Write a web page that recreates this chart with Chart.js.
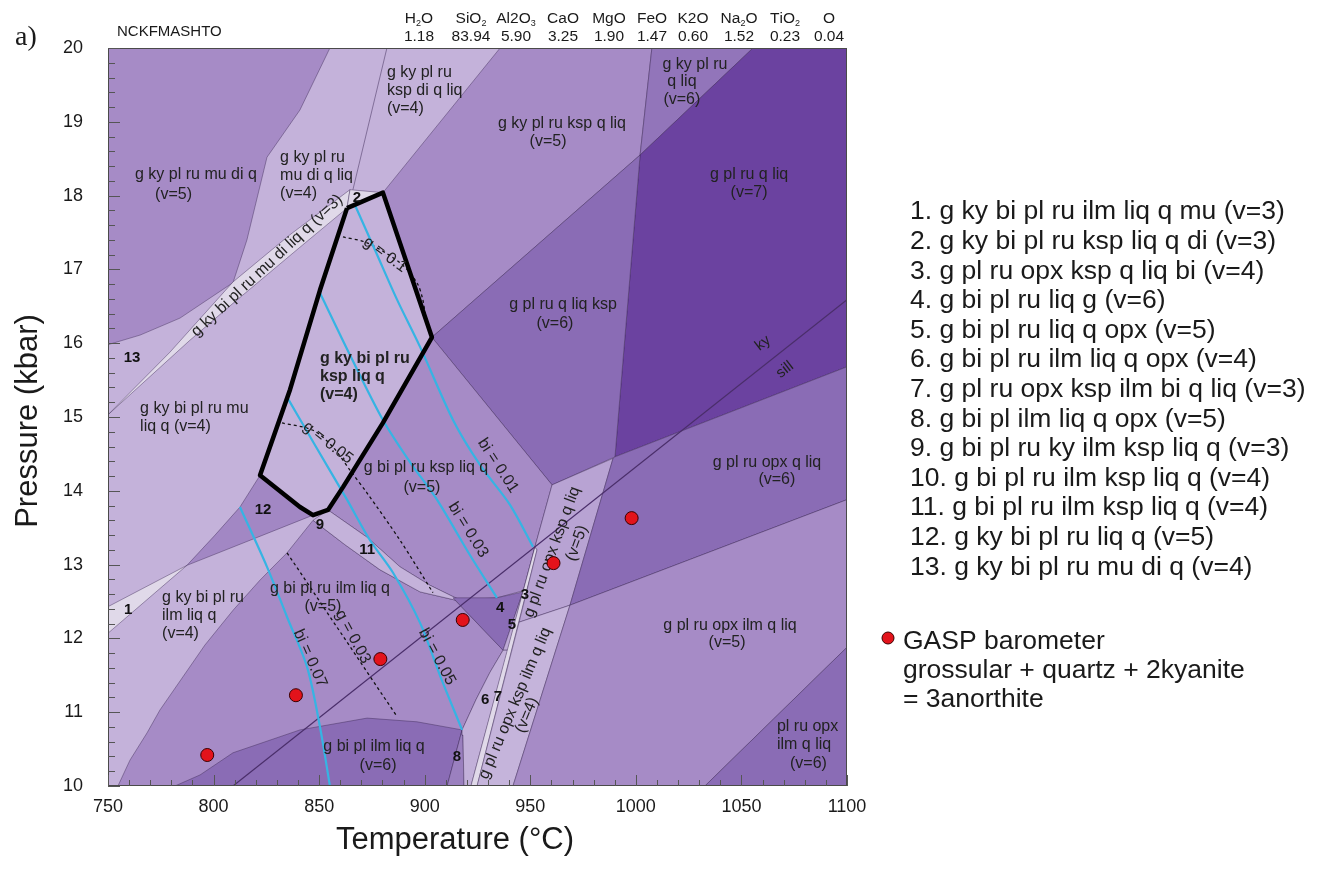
<!DOCTYPE html>
<html>
<head>
<meta charset="utf-8">
<script src="https://cdn.jsdelivr.net/npm/chart.js@4.4.1/dist/chart.umd.min.js"></script>
<style>
  html, body { margin: 0; padding: 0; background: #ffffff; }
  #wrap { width: 1325px; height: 869px; }
</style>
</head>
<body>
<div id="wrap"><canvas id="pseudosection" width="1325" height="869"></canvas></div>
<script>
// ---- axes ----
const temperatureTicks = [750, 800, 850, 900, 950, 1000, 1050, 1100];
const pressureTicks = [10, 11, 12, 13, 14, 15, 16, 17, 18, 19, 20];

// ---- bulk composition (mol%) ----
const oxideNames = ['H_2O', 'SiO_2', 'Al2O_3', 'CaO', 'MgO', 'FeO', 'K2O', 'Na_2O', 'TiO_2', 'O'];
const oxideValues = ['1.18', '83.94', '5.90', '3.25', '1.90', '1.47', '0.60', '1.52', '0.23', '0.04'];

// ---- assemblage fields, [T (°C), P (kbar)] vertices ----
const fieldKyPlRuMuDiQ = [[750, 20], [855.1, 20], [840.9, 19.16], [825.3, 18.52], [815.8, 17.40], [809.2, 16.82], [784.1, 16.34], [765.2, 16.11], [750, 15.98]];
const fieldKyPlRuKspQLiq = [[935.7, 20], [1007.6, 20], [1002.0, 18.55], [903.4, 16.08], [880.2, 18.04]];
const fieldKyPlRuQLiq = [[1007.6, 20], [1055.5, 20], [1002.0, 18.55]];
const fieldPlRuQLiq = [[1055.5, 20], [1100, 20], [1100, 15.68], [990.1, 14.46], [1002.0, 18.55]];
const fieldPlRuQLiqKsp = [[903.4, 16.08], [1002.0, 18.55], [990.1, 14.46], [960.3, 14.08]];
const fieldBiPlRuKspLiqQ = [[903.4, 16.08], [960.3, 14.08], [952.2, 13.24], [948.4, 12.66], [934.2, 12.55], [916.7, 12.52], [902.5, 12.72], [888.3, 12.97], [872.7, 13.37], [854.2, 13.74], [861.3, 14.05], [880.2, 14.92]];
const fieldBiPlRuIlmLiqQ = [[847.1, 13.60], [862.2, 13.27], [878.8, 12.93], [897.8, 12.63], [914.3, 12.52], [937.1, 11.84], [930.9, 11.54], [924.3, 11.17], [917.7, 10.76], [910.6, 10.0], [754.7, 10.0], [760.4, 10.35], [768.5, 10.72], [774.6, 11.03], [785.5, 11.48], [795.9, 11.91], [809.2, 12.38], [822.0, 12.79], [834.8, 13.16]];
const field11 = [[854.2, 13.74], [872.7, 13.37], [888.3, 12.97], [902.5, 12.72], [916.7, 12.52], [914.3, 12.52], [897.8, 12.63], [878.8, 12.93], [862.2, 13.27], [847.1, 13.60]];
const fieldBiPlIlmLiqQ = [[781.7, 10.0], [793.6, 10.15], [809.2, 10.45], [840.9, 10.76], [872.7, 10.92], [896.3, 10.87], [917.7, 10.76], [910.6, 10.0]];
const field8 = [[917.7, 10.76], [910.6, 10.0], [918.6, 10.0], [918.1, 10.69]];
const field4 = [[913.4, 12.55], [934.2, 12.55], [946.5, 12.63], [937.1, 11.84]];
const field5 = [[946.5, 12.63], [952.2, 13.24], [939.4, 11.84], [937.1, 11.84]];
const field6 = [[937.1, 11.84], [939.4, 11.84], [921.9, 10.0], [918.6, 10.0], [918.1, 10.69], [917.7, 10.76], [924.3, 11.17], [930.9, 11.54]];
const field7 = [[952.2, 13.24], [953.2, 13.20], [924.8, 10.0], [921.9, 10.0]];
const fieldOpxKspQLiq = [[960.3, 14.08], [989.2, 14.44], [968.8, 12.45], [944.7, 12.22], [953.2, 13.20], [952.2, 13.24]];
const fieldOpxKspIlmQLiq = [[944.7, 12.22], [968.8, 12.45], [941.8, 10.0], [924.8, 10.0]];
const fieldPlRuOpxQLiq = [[990.1, 14.46], [1100, 15.68], [1100, 13.88], [968.8, 12.45], [989.2, 14.44]];
const fieldPlRuOpxIlmQLiq = [[968.8, 12.45], [1100, 13.88], [1100, 11.88], [1032.7, 10.0], [941.8, 10.0]];
const fieldNoGarnet = [[1100, 11.88], [1100, 10.0], [1032.7, 10.0]];
const field12 = [[822.0, 14.21], [834.8, 13.92], [840.9, 13.78], [847.1, 13.67], [817.3, 13.33], [787.4, 12.99], [800.7, 13.40], [812.5, 13.78]];
const field1 = [[750, 12.43], [787.4, 12.99], [750, 12.07]];
const fieldMuDiLiqV3 = [[750, 15.03], [779.4, 15.88], [809.2, 16.83], [836.2, 17.47], [864.6, 18.08], [863.2, 17.83], [840.9, 17.30], [809.2, 16.54], [788.8, 16.04]];
const field2 = [[864.6, 18.08], [880.2, 18.04], [863.2, 17.83]];

// ---- single boundaries between same-shaded fields ----
const lineMuDiLiqKsp = [[882.1, 20], [866.0, 18.08]];
const kyanSillimanite = [[809.2, 10.0], [1100, 16.59]];

// ---- isopleths ----
const isoBi001 = [[867.0, 17.87], [876.5, 17.26], [886.9, 16.59], [897.8, 15.95], [913.4, 14.96], [926.2, 14.35], [940.4, 13.81], [951.3, 13.24]];
const isoBi003 = [[850.4, 16.68], [864.6, 15.84], [880.2, 14.96], [893.0, 14.39], [905.8, 13.88], [921.4, 13.13], [934.2, 12.55]];
const isoBi005 = [[834.8, 15.27], [848.0, 14.62], [863.2, 13.88], [874.1, 13.33], [885.0, 12.89], [897.8, 12.21], [907.2, 11.50], [917.7, 10.76]];
const isoBi007 = [[812.5, 13.78], [825.3, 12.97], [834.8, 12.29], [844.3, 11.61], [850.4, 10.80], [855.1, 10.0]];
const isoG010 = [[861.3, 17.44], [872.7, 17.36], [888.3, 17.09], [896.3, 16.82], [899.1, 16.59], [900.6, 16.31]];
const isoG005 = [[832.4, 14.92], [847.1, 14.82], [856.6, 14.59], [864.6, 14.28], [872.7, 13.97], [888.3, 13.33], [903.9, 12.62]];
const isoG003 = [[834.8, 13.16], [886.9, 10.94]];

// ---- peak assemblage outline ----
const peakField = [[863.2, 17.83], [880.2, 18.04], [903.4, 16.08], [880.2, 14.92], [861.3, 14.05], [854.2, 13.74], [847.1, 13.67], [840.9, 13.78], [834.8, 13.92], [822.0, 14.21], [836.2, 15.37], [850.4, 16.72], [863.2, 17.83]];

// ---- GASP barometry results ----
const gaspT = [797, 839, 879, 918, 961, 998];
const gaspP = [10.42, 11.23, 11.72, 12.25, 13.02, 13.63];

// ---- legend text ----
const assemblageList = [
  '1. g ky bi pl ru ilm liq q mu (v=3)',
  '2. g ky bi pl ru ksp liq q di (v=3)',
  '3. g pl ru opx ksp q liq bi (v=4)',
  '4. g bi pl ru liq g (v=6)',
  '5. g bi pl ru liq q opx (v=5)',
  '6. g bi pl ru ilm liq q opx (v=4)',
  '7. g pl ru opx ksp ilm bi q liq (v=3)',
  '8. g bi pl ilm liq q opx (v=5)',
  '9. g bi pl ru ky ilm ksp liq q (v=3)',
  '10. g bi pl ru ilm ksp liq q (v=4)',
  '11. g bi pl ru ilm ksp liq q (v=4)',
  '12. g ky bi pl ru liq q (v=5)',
  '13. g ky bi pl ru mu di q (v=4)'
];
const gaspLegend = ['GASP barometer', 'grossular + quartz + 2kyanite', '= 3anorthite'];

// ---- styling ----
const FONT = '"Liberation Sans", Arial, sans-serif';
const shade = {
  base: '#c4b2da',
  pale: '#e0d9e9',
  light: '#c4b2da',
  lightMid: '#b8a3d3',
  mid: '#a68bc6',
  midDark: '#9275ba',
  dark: '#8a6cb5',
  darkest: '#6b42a0'
};
const edgeColor = 'rgba(55,35,80,0.6)';

function toXY(pts) { return pts.map(([x, y]) => ({ x, y })); }

function area(name, pts, color) {
  const data = toXY(pts);
  data.push({ x: pts[0][0], y: pts[0][1] });
  return { label: name, data, fill: 'shape', backgroundColor: color, borderColor: edgeColor,
           borderWidth: 0.7, pointRadius: 0, tension: 0 };
}
function curve(name, pts, color, width, dash, tension) {
  return { label: name, data: toXY(pts), fill: false, borderColor: color, borderWidth: width,
           borderDash: dash || [], pointRadius: 0, tension: tension || 0, borderCapStyle: 'butt' };
}

const datasets = [
  area('g ky pl ru mu di q', fieldKyPlRuMuDiQ, shade.mid),
  area('g ky pl ru ksp q liq', fieldKyPlRuKspQLiq, shade.mid),
  area('g ky pl ru q liq', fieldKyPlRuQLiq, shade.midDark),
  area('g pl ru q liq', fieldPlRuQLiq, shade.darkest),
  area('g pl ru q liq ksp', fieldPlRuQLiqKsp, shade.dark),
  area('g bi pl ru ksp liq q', fieldBiPlRuKspLiqQ, shade.mid),
  area('g bi pl ru ilm liq q', fieldBiPlRuIlmLiqQ, shade.mid),
  area('11', field11, shade.light),
  area('g bi pl ilm liq q', fieldBiPlIlmLiqQ, shade.dark),
  area('8', field8, '#9b80bf'),
  area('4', field4, shade.dark),
  area('5', field5, '#bda9d6'),
  area('6', field6, '#c2b0d9'),
  area('7', field7, shade.pale),
  area('g pl ru opx ksp q liq', fieldOpxKspQLiq, shade.lightMid),
  area('g pl ru opx ksp ilm q liq', fieldOpxKspIlmQLiq, '#c5b4db'),
  area('g pl ru opx q liq', fieldPlRuOpxQLiq, shade.dark),
  area('g pl ru opx ilm q liq', fieldPlRuOpxIlmQLiq, shade.mid),
  area('pl ru opx ilm q liq', fieldNoGarnet, shade.dark),
  area('12', field12, '#a287c4'),
  area('1', field1, shade.pale),
  area('g ky bi pl ru mu di liq q', fieldMuDiLiqV3, shade.pale),
  area('2', field2, shade.pale),
  curve('boundary', lineMuDiLiqKsp, edgeColor, 0.8),
  curve('ky = sill', kyanSillimanite, '#4a2e6a', 1.2),
  curve('g = 0.1', isoG010, '#111111', 1.3, [3, 3], 0.3),
  curve('g = 0.05', isoG005, '#111111', 1.3, [3, 3], 0.3),
  curve('g = 0.03', isoG003, '#111111', 1.3, [3, 3], 0),
  curve('bi = 0.01', isoBi001, '#36b4e3', 2.2, [], 0.3),
  curve('bi = 0.03', isoBi003, '#36b4e3', 2.2, [], 0.3),
  curve('bi = 0.05', isoBi005, '#36b4e3', 2.2, [], 0.3),
  curve('bi = 0.07', isoBi007, '#36b4e3', 2.2, [], 0.3),
  Object.assign(curve('peak', peakField, '#000000', 4.5), { borderJoinStyle: 'round' }),
  { label: 'GASP', id: 'gasp', data: gaspT.map((t, i) => ({ x: t, y: gaspP[i] })), showLine: false,
    pointRadius: 6.5, pointHoverRadius: 6.5, pointBackgroundColor: '#e3131b',
    pointBorderColor: '#3a0000', pointBorderWidth: 1 }
];
// first listed is painted first: lower order sits on top
datasets.forEach((d, i) => { d.order = datasets.length - i; });

// ---- text placed on the diagram (anchors in T, P) ----
const fieldLabels = [
  { t: 762.8, p: 18.28, align: 'left', lines: ['g ky pl ru mu di q'] },
  { t: 772.3, p: 18.02, align: 'left', lines: ['(v=5)'] },
  { t: 831.5, p: 18.51, align: 'left', lines: ['g ky pl ru', 'mu di q liq', '(v=4)'] },
  { t: 882.1, p: 19.67, align: 'left', lines: ['g ky pl ru', 'ksp di q liq', '(v=4)'] },
  { t: 965.0, p: 18.97, lines: ['g ky pl ru ksp q liq'] },
  { t: 958.4, p: 18.73, lines: ['(v=5)'] },
  { t: 1028.0, p: 19.78, lines: ['g ky pl ru'] },
  { t: 1021.8, p: 19.55, lines: ['q liq', '(v=6)'] },
  { t: 1053.6, p: 18.29, lines: ['g pl ru q liq', '(v=7)'] },
  { t: 965.5, p: 16.52, lines: ['g pl ru q liq ksp'] },
  { t: 961.7, p: 16.27, lines: ['(v=6)'] },
  { t: 850.4, p: 15.79, align: 'left', bold: true, lines: ['g ky bi pl ru', 'ksp liq q', '(v=4)'] },
  { t: 765.2, p: 15.12, align: 'left', lines: ['g ky bi pl ru mu', 'liq q (v=4)'] },
  { t: 900.6, p: 14.31, lines: ['g bi pl ru ksp liq q'] },
  { t: 898.7, p: 14.05, lines: ['(v=5)'] },
  { t: 1062.1, p: 14.38, lines: ['g pl ru opx q liq'] },
  { t: 1066.8, p: 14.15, lines: ['(v=6)'] },
  { t: 775.6, p: 12.55, align: 'left', lines: ['g ky bi pl ru', 'ilm liq q', '(v=4)'] },
  { t: 855.1, p: 12.68, lines: ['g bi pl ru ilm liq q'] },
  { t: 851.8, p: 12.43, lines: ['(v=5)'] },
  { t: 876.0, p: 10.53, lines: ['g bi pl ilm liq q'] },
  { t: 877.9, p: 10.28, lines: ['(v=6)'] },
  { t: 1044.6, p: 12.17, lines: ['g pl ru opx ilm q liq'] },
  { t: 1043.2, p: 11.94, lines: ['(v=5)'] },
  { t: 1066.8, p: 10.80, align: 'left', lines: ['pl ru opx', 'ilm q liq'] },
  { t: 1073.0, p: 10.31, align: 'left', lines: ['(v=6)'] }
];
const slantedLabels = [
  { t: 825.3, p: 17.05, angle: -43, text: 'g ky bi pl ru mu di liq q (v=3)' },
  { t: 960.3, p: 13.17, angle: -70, text: 'g pl ru opx ksp q liq' },
  { t: 972.1, p: 13.29, angle: -70, text: '(v=5)' },
  { t: 942.8, p: 11.12, angle: -67, text: 'g pl ru opx ksp ilm q liq' },
  { t: 948.4, p: 10.96, angle: -67, text: '(v=4)' },
  { t: 881.2, p: 17.20, angle: 36, text: 'g = 0.1' },
  { t: 854.2, p: 14.65, angle: 38, text: 'g = 0.05' },
  { t: 866.0, p: 12.02, angle: 62, text: 'g = 0.03' },
  { t: 934.7, p: 14.34, angle: 57, text: 'bi = 0.01' },
  { t: 920.5, p: 13.47, angle: 58, text: 'bi = 0.03' },
  { t: 905.8, p: 11.75, angle: 62, text: 'bi = 0.05' },
  { t: 845.7, p: 11.73, angle: 66, text: 'bi = 0.07' },
  { t: 1060.2, p: 16.00, angle: -38, text: 'ky', size: 15 },
  { t: 1070.6, p: 15.64, angle: -38, text: 'sill', size: 15 }
];
const fieldNumbers = [
  { t: 759.5, p: 12.38, text: '1' }, { t: 867.9, p: 17.97, text: '2' },
  { t: 947.5, p: 12.59, text: '3' }, { t: 935.7, p: 12.41, text: '4' },
  { t: 941.3, p: 12.18, text: '5' }, { t: 928.6, p: 11.17, text: '6' },
  { t: 934.7, p: 11.21, text: '7' }, { t: 915.3, p: 10.39, text: '8' },
  { t: 850.4, p: 13.54, text: '9' }, { t: 872.7, p: 13.20, text: '11' },
  { t: 823.4, p: 13.74, text: '12' }, { t: 761.4, p: 15.80, text: '13' }
];

function drawDiagramText(chart) {
  const ctx = chart.ctx, xs = chart.scales.x, ys = chart.scales.y;
  ctx.save();
  ctx.fillStyle = '#222222';
  ctx.textBaseline = 'middle';
  fieldLabels.forEach(l => {
    ctx.font = (l.bold ? 'bold ' : '') + '16px ' + FONT;
    ctx.textAlign = l.align || 'center';
    const x = xs.getPixelForValue(l.t), y = ys.getPixelForValue(l.p);
    l.lines.forEach((s, i) => ctx.fillText(s, x, y + i * 18));
  });
  slantedLabels.forEach(l => {
    ctx.save();
    ctx.translate(xs.getPixelForValue(l.t), ys.getPixelForValue(l.p));
    ctx.rotate(l.angle * Math.PI / 180);
    ctx.font = (l.size || 16) + 'px ' + FONT;
    ctx.textAlign = 'center';
    ctx.fillText(l.text, 0, 0);
    ctx.restore();
  });
  ctx.font = 'bold 15px ' + FONT;
  ctx.textAlign = 'center';
  ctx.fillStyle = '#111111';
  fieldNumbers.forEach(n => ctx.fillText(n.text, xs.getPixelForValue(n.t), ys.getPixelForValue(n.p)));
  ctx.restore();
}

function drawSubscripted(ctx, spec, cx, cy, size) {
  const parts = [];
  for (let i = 0; i < spec.length; i++) {
    if (spec[i] === '_') { parts.push({ s: spec[i + 1], sub: true }); i++; }
    else parts.push({ s: spec[i], sub: false });
  }
  const big = size + 'px ' + FONT, small = Math.round(size * 0.6) + 'px ' + FONT;
  let w = 0;
  parts.forEach(p => { ctx.font = p.sub ? small : big; p.w = ctx.measureText(p.s).width; w += p.w; });
  let x = cx - w / 2;
  ctx.textAlign = 'left';
  parts.forEach(p => {
    ctx.font = p.sub ? small : big;
    ctx.fillText(p.s, x, p.sub ? cy + size * 0.3 : cy);
    x += p.w;
  });
}

const decorations = {
  id: 'decorations',
  beforeDatasetsDraw(chart) {
    const { ctx, chartArea: a } = chart;
    ctx.save();
    ctx.fillStyle = shade.base;
    ctx.fillRect(a.left, a.top, a.right - a.left, a.bottom - a.top);
    ctx.restore();
  },
  beforeDatasetDraw(chart, args) {
    if (chart.data.datasets[args.index].id === 'gasp') drawDiagramText(chart);
  },
  afterDraw(chart) {
    const { ctx, chartArea: a } = chart;
    const xs = chart.scales.x, ys = chart.scales.y;
    ctx.save();
    // frame
    ctx.strokeStyle = '#4a4a4a';
    ctx.lineWidth = 1;
    ctx.strokeRect(a.left + 0.5, a.top + 0.5, a.right - a.left - 1, a.bottom - a.top - 1);
    // inward tick marks
    ctx.strokeStyle = '#555555';
    ctx.beginPath();
    for (let k = 0; k <= 50; k++) {
      const v = 10 + k * 0.2, y = Math.round(ys.getPixelForValue(v)) + 0.5;
      const len = k % 5 === 0 ? 12 : 7;
      ctx.moveTo(a.left, y); ctx.lineTo(a.left + len, y);
    }
    for (let k = 0; k <= 35; k++) {
      const v = 750 + k * 10, x = Math.round(xs.getPixelForValue(v)) + 0.5;
      const len = k % 5 === 0 ? 11 : 6;
      ctx.moveTo(x, a.bottom); ctx.lineTo(x, a.bottom - len);
    }
    ctx.stroke();

    ctx.fillStyle = '#1a1a1a';
    ctx.textBaseline = 'middle';
    // axis titles
    ctx.font = '31px ' + FONT;
    ctx.textAlign = 'center';
    ctx.fillText('Temperature (°C)', 455, 840);
    ctx.save();
    ctx.translate(28, (a.top + a.bottom) / 2 + 4);
    ctx.rotate(-Math.PI / 2);
    ctx.fillText('Pressure (kbar)', 0, 0);
    ctx.restore();

    // panel letter and system
    ctx.font = '28px "Liberation Serif", "Times New Roman", serif';
    ctx.textAlign = 'left';
    ctx.textBaseline = 'alphabetic';
    ctx.fillText('a)', 15, 45);
    ctx.textBaseline = 'middle';
    ctx.font = '15px ' + FONT;
    ctx.fillText('NCKFMASHTO', 117, 32);

    // bulk composition header
    const oxideX = [419, 471, 516, 563, 609, 652, 693, 739, 785, 829];
    oxideNames.forEach((n, i) => {
      drawSubscripted(ctx, n, oxideX[i], 19, 15.5);
      ctx.font = '15.5px ' + FONT;
      ctx.textAlign = 'center';
      ctx.fillText(oxideValues[i], oxideX[i], 37);
    });

    // assemblage key
    ctx.font = '26.5px ' + FONT;
    ctx.textAlign = 'left';
    assemblageList.forEach((s, i) => ctx.fillText(s, 910, 212 + i * 29.6));

    // GASP key
    ctx.beginPath();
    ctx.arc(888, 638, 6, 0, Math.PI * 2);
    ctx.fillStyle = '#e3131b';
    ctx.fill();
    ctx.strokeStyle = '#3a0000';
    ctx.lineWidth = 1;
    ctx.stroke();
    ctx.fillStyle = '#1a1a1a';
    gaspLegend.forEach((s, i) => ctx.fillText(s, 903, 642 + i * 29));
    ctx.restore();
  }
};

new Chart(document.getElementById('pseudosection'), {
  type: 'line',
  data: { datasets },
  options: {
    responsive: false,
    animation: false,
    devicePixelRatio: 1,
    layout: { padding: { top: 48, right: 478, left: 0, bottom: 0 } },
    elements: { point: { radius: 0 }, line: { tension: 0 } },
    plugins: { legend: { display: false }, tooltip: { enabled: false } },
    events: [],
    scales: {
      x: {
        type: 'linear',
        min: temperatureTicks[0],
        max: temperatureTicks[temperatureTicks.length - 1],
        afterBuildTicks: s => { s.ticks = temperatureTicks.map(v => ({ value: v })); },
        afterFit: s => { s.height = 83; },
        grid: { display: false, drawTicks: false },
        border: { display: false },
        ticks: { padding: 10, maxRotation: 0, autoSkip: false, color: '#1a1a1a',
                 callback: v => String(v),
                 font: { family: 'Liberation Sans', size: 18 } }
      },
      y: {
        type: 'linear',
        min: pressureTicks[0],
        max: pressureTicks[pressureTicks.length - 1],
        afterBuildTicks: s => { s.ticks = pressureTicks.map(v => ({ value: v })); },
        afterFit: s => { s.width = 108; },
        grid: { display: false, drawTicks: false },
        border: { display: false },
        ticks: { padding: 25, autoSkip: false, color: '#1a1a1a',
                 callback: v => String(v),
                 font: { family: 'Liberation Sans', size: 18 } }
      }
    }
  },
  plugins: [decorations]
});
</script>
</body>
</html>
